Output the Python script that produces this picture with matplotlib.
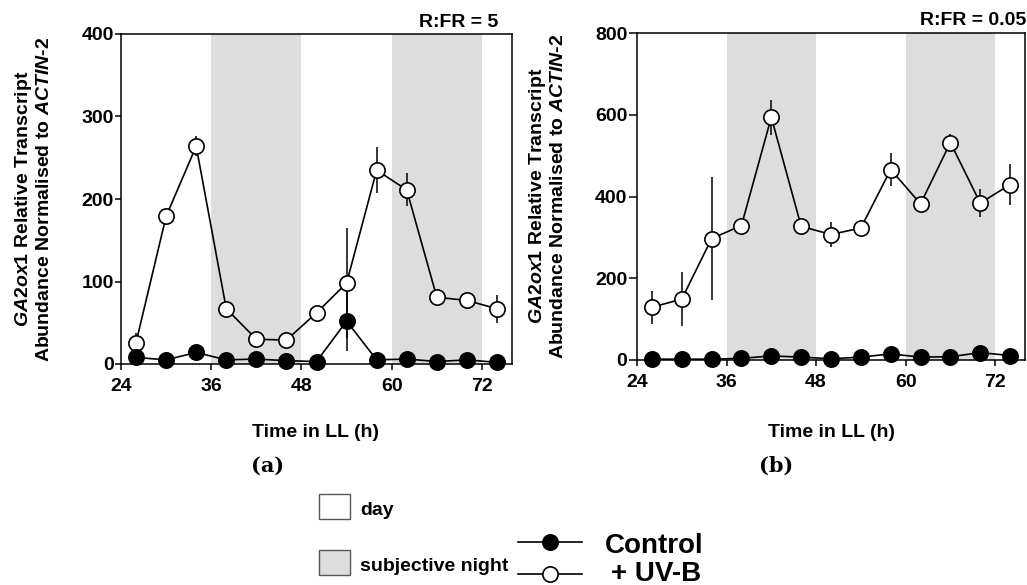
import matplotlib
matplotlib.use("Agg")
import matplotlib.pyplot as plt
from matplotlib.patches import Rectangle
from matplotlib.lines import Line2D

# ---------------- data ----------------
time_h = [26, 30, 34, 38, 42, 46, 50, 54, 58, 62, 66, 70, 74]

# panel (a) R:FR = 5
a_uvb = [26, 179, 264, 67, 30, 29, 62, 98, 235, 211, 81, 77, 67]
a_uvb_err = [11, 4, 12, 4, 3, 3, 4, 67, 28, 20, 5, 5, 17]
a_ctrl = [8, 5, 14, 5, 6, 4, 3, 52, 5, 6, 3, 5, 2]
a_ctrl_err = [3, 2, 4, 2, 2, 1, 1, 36, 2, 2, 1, 2, 1]

# panel (b) R:FR = 0.05
b_uvb = [129, 149, 297, 329, 594, 327, 307, 323, 466, 382, 532, 384, 429]
b_uvb_err = [40, 66, 150, 8, 43, 8, 31, 10, 41, 8, 21, 35, 50]
b_ctrl = [2, 2, 2, 4, 10, 7, 3, 7, 15, 7, 8, 18, 11]
b_ctrl_err = [1, 1, 1, 2, 3, 2, 1, 2, 4, 2, 2, 4, 3]

night_periods = [(36, 48), (60, 72)]
x_ticks = [24, 36, 48, 60, 72]
a_yticks = [0, 100, 200, 300, 400]
b_yticks = [0, 200, 400, 600, 800]
titles = ["R:FR = 5", "R:FR = 0.05"]
panel_tags = ["(a)", "(b)"]

# ---------------- style ----------------
plt.rcParams['font.family'] = ['Liberation Sans', 'DejaVu Sans']
plt.rcParams['font.weight'] = 'bold'
plt.rcParams['mathtext.fontset'] = 'custom'
plt.rcParams['mathtext.it'] = 'Liberation Sans:italic:bold'
plt.rcParams['mathtext.rm'] = 'Liberation Sans:bold'
plt.rcParams['mathtext.bf'] = 'Liberation Sans:bold'

W, H = 1027, 585
fig = plt.figure(figsize=(W / 100, H / 100), dpi=100)


def fx(x):
    return x / W


def fy(y):
    return 1 - y / H


NIGHT = '#dddddd'
ylabel = "$\\mathit{GA2ox1}$ Relative Transcript\nAbundance Normalised to $\\mathit{ACTIN}$-2"


def make_panel(rect, uvb, uvb_err, ctrl, ctrl_err, yticks, ylim, ylen):
    l, t, r, b = rect
    ax = fig.add_axes([fx(l), fy(b), fx(r - l), (b - t) / H])
    for s, e in night_periods:
        ax.axvspan(s, e, color=NIGHT, lw=0, zorder=0)
    ax.errorbar(time_h, uvb, yerr=uvb_err, fmt='none', ecolor='black',
                elinewidth=1.1, capsize=0, zorder=2, clip_on=False)
    ax.errorbar(time_h, ctrl, yerr=ctrl_err, fmt='none', ecolor='black',
                elinewidth=1.1, capsize=0, zorder=2, clip_on=False)
    ax.plot(time_h, uvb, '-o', color='black', lw=1.2, ms=11,
            mfc='white', mec='black', mew=1.2, zorder=3, clip_on=False)
    ax.plot(time_h, ctrl, '-o', color='black', lw=1.2, ms=11,
            mfc='black', mec='black', mew=1.2, zorder=4, clip_on=False)
    ax.set_xlim(24, 76)
    ax.set_ylim(*ylim)
    ax.set_xticks(x_ticks)
    ax.set_yticks(yticks)
    for sp in ax.spines.values():
        sp.set_linewidth(1.1)
        sp.set_zorder(5)
    ax.tick_params(axis='both', direction='out', width=1.1, labelsize=14)
    ax.tick_params(axis='x', length=4, pad=6)
    ax.tick_params(axis='y', length=ylen, pad=1)
    for lab in ax.get_xticklabels() + ax.get_yticklabels():
        lab.set_fontweight('bold')
    return ax


ax_a = make_panel((121, 34, 512, 364), a_uvb, a_uvb_err, a_ctrl, a_ctrl_err,
                  a_yticks, (0, 400), 4)
ax_b = make_panel((637, 33, 1025, 360), b_uvb, b_uvb_err, b_ctrl, b_ctrl_err,
                  b_yticks, (0, 800), 6)

# y labels
fig.text(fx(33), fy(199), ylabel, rotation=90, ha='center', va='center',
         fontsize=14, fontweight='bold', multialignment='center')
fig.text(fx(547), fy(196), ylabel, rotation=90, ha='center', va='center',
         fontsize=14, fontweight='bold', multialignment='center')

# x labels
fig.text(fx(316), fy(437), "Time in LL (h)", ha='center', va='baseline',
         fontsize=14, fontweight='bold')
fig.text(fx(831), fy(437), "Time in LL (h)", ha='center', va='baseline',
         fontsize=14, fontweight='bold')

# R:FR titles
fig.text(fx(498), fy(27), titles[0], ha='right', va='baseline',
         fontsize=14, fontweight='bold')
fig.text(fx(1026), fy(25), titles[1], ha='right', va='baseline',
         fontsize=14, fontweight='bold')

# panel tags
fig.text(fx(268), fy(472), panel_tags[0], ha='center', va='baseline',
         fontsize=15, fontweight='bold', family='DejaVu Serif')
fig.text(fx(776), fy(472), panel_tags[1], ha='center', va='baseline',
         fontsize=15, fontweight='bold', family='DejaVu Serif')

# ---------------- legend ----------------
fig.add_artist(Rectangle((fx(319), fy(519)), fx(31), 25 / H, facecolor='white',
                         edgecolor='#555555', lw=1.0, transform=fig.transFigure))
fig.add_artist(Rectangle((fx(319), fy(575)), fx(31), 25 / H, facecolor=NIGHT,
                         edgecolor='#555555', lw=1.0, transform=fig.transFigure))
fig.text(fx(360), fy(515), "day", ha='left', va='baseline', fontsize=14,
         fontweight='bold')
fig.text(fx(360), fy(571), "subjective night", ha='left', va='baseline',
         fontsize=14, fontweight='bold')

fig.add_artist(Line2D([fx(518), fx(582)], [fy(542), fy(542)], color='black',
                      lw=1.2, transform=fig.transFigure))
fig.add_artist(Line2D([fx(550)], [fy(542)], marker='o', ms=11, mfc='black',
                      mec='black', mew=1.2, transform=fig.transFigure))
fig.add_artist(Line2D([fx(518), fx(582)], [fy(574), fy(574)], color='black',
                      lw=1.2, transform=fig.transFigure))
fig.add_artist(Line2D([fx(550)], [fy(574)], marker='o', ms=11, mfc='white',
                      mec='black', mew=1.2, transform=fig.transFigure))
fig.text(fx(605), fy(553), "Control", ha='left', va='baseline', fontsize=20,
         fontweight='bold')
fig.text(fx(611), fy(581), "+ UV-B", ha='left', va='baseline', fontsize=20,
         fontweight='bold')

fig.savefig("out.png", dpi=100)
